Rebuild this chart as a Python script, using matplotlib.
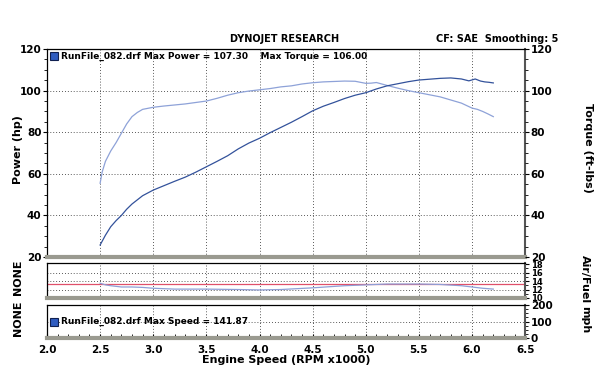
import numpy as np
import matplotlib
matplotlib.use("Agg")
import matplotlib.pyplot as plt
from matplotlib.ticker import MultipleLocator
from matplotlib.patches import Rectangle

# --- data ---
rpm_torque = [2.5, 2.52, 2.55, 2.6, 2.65, 2.7, 2.75, 2.8, 2.85, 2.9, 3.0, 3.1, 3.2, 3.3,
              3.4, 3.5, 3.6, 3.7, 3.8, 3.9, 4.0, 4.1, 4.2, 4.3, 4.4, 4.5, 4.6, 4.7, 4.8,
              4.9, 5.0, 5.05, 5.1, 5.2, 5.3, 5.4, 5.5, 5.6, 5.7, 5.8, 5.9, 6.0, 6.05,
              6.1, 6.15, 6.2]
torque = [55.5, 61, 66, 71, 75, 79.5, 84, 87.5, 89.5, 91, 92, 92.6, 93.1, 93.6,
          94.3, 95, 96.3, 97.8, 99, 99.8, 100.4, 101, 101.8, 102.3, 103.2, 103.8, 104.2,
          104.4, 104.6, 104.5, 103.5, 103.6, 103.9, 102.5, 101.2, 100, 99, 98, 97,
          95.5, 94, 91.6, 91, 90, 88.8, 87.5]

rpm_power = [2.5, 2.55, 2.6, 2.65, 2.7, 2.75, 2.8, 2.9, 3.0, 3.1, 3.2, 3.3, 3.4, 3.5,
             3.6, 3.7, 3.8, 3.9, 4.0, 4.1, 4.2, 4.3, 4.4, 4.5, 4.6, 4.7, 4.8, 4.9, 5.0,
             5.1, 5.2, 5.3, 5.4, 5.5, 5.6, 5.7, 5.8, 5.9, 5.97, 6.03, 6.08, 6.12,
             6.16, 6.2]
power = [25.8, 30.5, 34.6, 37.5, 40, 43, 45.5, 49.5, 52.2, 54.3, 56.4, 58.4, 60.8,
         63.4, 66, 68.7, 72, 74.8, 77.1, 79.8, 82.3, 84.8, 87.5, 90.3, 92.5, 94.3,
         96.2, 97.8, 99, 100.8, 102.3, 103.3, 104.3, 105.1, 105.5, 105.9, 106.1,
         105.6, 104.7, 105.6, 104.6, 104.2, 104, 103.7]

rpm_afr = [2.5, 2.55, 2.6, 2.7, 2.8, 2.9, 3.0, 3.2, 3.5, 3.8, 4.0, 4.2, 4.5, 4.8,
           5.0, 5.2, 5.5, 5.7, 5.9, 6.0, 6.1, 6.2]
afr = [13.5, 13.1, 12.9, 12.6, 12.6, 12.5, 12.3, 12.1, 12.1, 12.0, 11.9, 12.0, 12.4,
       12.9, 13.1, 13.3, 13.3, 13.2, 12.9, 12.6, 12.3, 12.1]
afr_target = 13.3

x_ticks = [2.0, 2.5, 3.0, 3.5, 4.0, 4.5, 5.0, 5.5, 6.0, 6.5]

c_power = '#33529b'
c_torque = '#8ea2d8'
c_afr = '#8f9fd6'
c_red = '#e0506a'
shadow = '#9a9a90'
dots = (0, (1, 2.5))

plt.rcParams['font.family'] = 'DejaVu Sans'
plt.rcParams['font.weight'] = 'bold'
fs = 7.5

fig = plt.figure(figsize=(6.0, 3.86), dpi=100)
L, W = 0.0783, 0.797
ax = fig.add_axes([L, 0.334, W, 0.539])
ax_afr = fig.add_axes([L, 0.228, W, 0.091])
ax_spd = fig.add_axes([L, 0.124, W, 0.086])


def style(a):
    a.set_xlim(2.0, 6.5)
    for sp in a.spines.values():
        sp.set_color('black')
        sp.set_linewidth(0.9)
    a.spines['bottom'].set_color(shadow)
    a.spines['bottom'].set_linewidth(3)
    a.spines['right'].set_color('#555555')
    a.spines['right'].set_linewidth(1.5)
    for xv in x_ticks[1:-1]:
        a.axvline(xv, color='#222222', ls=dots, lw=0.6, zorder=1)
    a.tick_params(axis='x', labelbottom=False, length=0)


# main panel
style(ax)
ax.plot(rpm_torque, torque, color=c_torque, lw=0.9, zorder=3)
ax.plot(rpm_power, power, color=c_power, lw=0.9, zorder=3)
ax.set_ylim(20, 120)
ax.yaxis.set_major_locator(MultipleLocator(20))
ax.yaxis.set_minor_locator(MultipleLocator(5))
for yv in [40, 60, 80, 100]:
    ax.axhline(yv, color='#222222', ls=dots, lw=0.6, zorder=1)
ax.tick_params(axis='y', which='major', labelsize=fs, length=3, pad=1)
ax.tick_params(axis='y', which='minor', length=2)
ax2 = ax.twinx()
ax2.set_ylim(20, 120)
ax2.yaxis.set_major_locator(MultipleLocator(20))
ax2.yaxis.set_minor_locator(MultipleLocator(5))
ax2.tick_params(axis='y', which='major', labelsize=fs, length=3, pad=1)
ax2.tick_params(axis='y', which='minor', length=2)
for sp in ax2.spines.values():
    sp.set_visible(False)

lab = dict(fontsize=fs + 0.5, fontweight='bold', va='center', ha='center')
fig.text(0.03, 1 - 150 / 386, 'Power (hp)', rotation=90, **lab)
fig.text(0.98, 1 - 148 / 386, 'Torque (ft-lbs)', rotation=-90, **lab)
fig.text(0.03, 1 - 277 / 386, 'NONE', rotation=90, **lab)
fig.text(0.03, 1 - 318 / 386, 'NONE', rotation=90, **lab)
fig.text(0.975, 1 - 279 / 386, 'Air/Fuel', rotation=-90, **lab)
fig.text(0.975, 1 - 320 / 386, 'mph', rotation=-90, **lab)

ax.add_patch(Rectangle((0.006, 0.945), 0.016, 0.04, transform=ax.transAxes,
                       facecolor='#2f5cc0', edgecolor='#102050', lw=0.8, zorder=5))
ax.text(0.03, 0.965, 'RunFile_082.drf Max Power = 107.30    Max Torque = 106.00',
        transform=ax.transAxes, fontsize=6.5, fontweight='bold', va='center', zorder=5)

fig.text(0.475, 0.89, 'DYNOJET RESEARCH', fontsize=fs - 0.5, fontweight='bold', ha='center')
fig.text(0.93, 0.89, 'CF: SAE  Smoothing: 5', fontsize=fs - 0.5, fontweight='bold', ha='right')

# air/fuel panel
style(ax_afr)
ax_afr.plot(rpm_afr, afr, color=c_afr, lw=0.9, zorder=3)
ax_afr.axhline(afr_target, color=c_red, lw=0.9, zorder=2)
ax_afr.set_ylim(10, 18.3)
for yv in [12, 14, 16]:
    ax_afr.axhline(yv, color='#222222', ls=dots, lw=0.6, zorder=1)
ax_afr.yaxis.tick_right()
ax_afr.set_yticks([10, 12, 14, 16, 18])
ax_afr.yaxis.set_minor_locator(MultipleLocator(1))
ax_afr.tick_params(axis='y', labelsize=6, length=3, pad=1)
ax_afr.tick_params(axis='y', which='minor', length=2)

# speed panel
style(ax_spd)
ax_spd.set_ylim(0, 200)
ax_spd.axhline(100, color='#222222', ls=dots, lw=0.6, zorder=1)
ax_spd.yaxis.tick_right()
ax_spd.set_yticks([0, 100, 200])
ax_spd.yaxis.set_minor_locator(MultipleLocator(25))
ax_spd.tick_params(axis='y', labelsize=fs, length=3, pad=1)
ax_spd.tick_params(axis='y', which='minor', length=2)
ax_spd.set_xticks(x_ticks)
ax_spd.set_xticklabels([f'{v:.1f}' for v in x_ticks])
ax_spd.xaxis.set_minor_locator(MultipleLocator(0.1))
ax_spd.tick_params(axis='x', which='both', labelbottom=True, direction='in',
                   length=3, labelsize=fs, pad=5)
ax_spd.set_xlabel('Engine Speed (RPM x1000)', fontsize=fs + 0.5, fontweight='bold',
                  labelpad=0)
ax_spd.add_patch(Rectangle((0.006, 0.38), 0.016, 0.24, transform=ax_spd.transAxes,
                           facecolor='#2f5cc0', edgecolor='#102050', lw=0.8, zorder=5))
ax_spd.text(0.03, 0.5, 'RunFile_082.drf Max Speed = 141.87', transform=ax_spd.transAxes,
            fontsize=6.5, fontweight='bold', va='center', zorder=5)

fig.savefig('out.png', dpi=100)
